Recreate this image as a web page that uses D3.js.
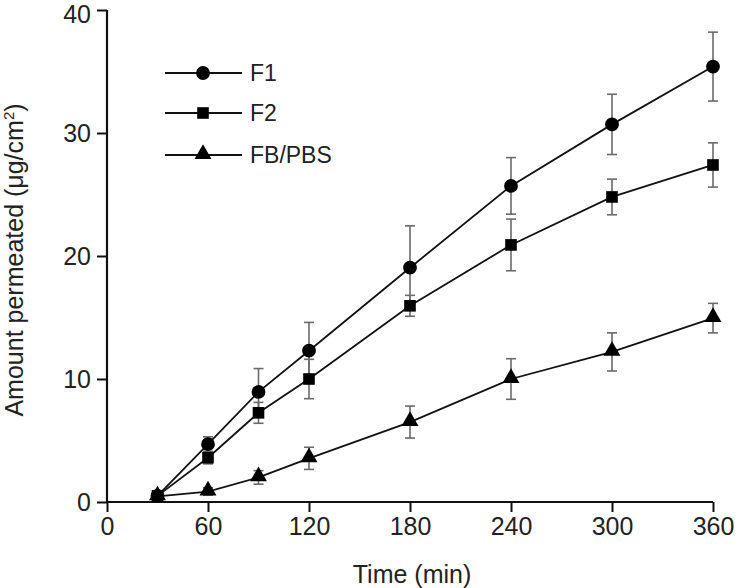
<!DOCTYPE html>
<html><head><meta charset="utf-8">
<script src="https://cdn.jsdelivr.net/npm/d3@7"></script>
<style>body{margin:0;background:#fff}svg{display:block}text{font-family:"Liberation Sans",Arial,sans-serif;fill:#222}</style>
</head><body><svg id="c" width="740" height="588"></svg>
<script>
const times = [30, 60, 90, 120, 180, 240, 300, 360];
const f1 = [0.5, 4.7, 8.95, 12.3, 19.05, 25.7, 30.7, 35.4];
const f1Err = [0.2, 0.6, 1.9, 2.3, 3.4, 2.3, 2.45, 2.8];
const f2 = [0.5, 3.6, 7.25, 10.0, 15.95, 20.9, 24.8, 27.4];
const f2Err = [0.2, 0.5, 0.85, 1.6, 0.85, 2.1, 1.45, 1.8];
const fb = [0.45, 0.85, 2.0, 3.55, 6.5, 10.0, 12.2, 14.95];
const fbErr = [0.1, 0.3, 0.55, 0.9, 1.3, 1.65, 1.55, 1.2];
const xTicks = [0, 60, 120, 180, 240, 300, 360];
const yTicks = [0, 10, 20, 30, 40];
const seriesNames = ["F1", "F2", "FB/PBS"];

const series = [
  {name: seriesNames[0], vals: f1, err: f1Err, sym: d3.symbolCircle, size: 150},
  {name: seriesNames[1], vals: f2, err: f2Err, sym: d3.symbolSquare, size: 135},
  {name: seriesNames[2], vals: fb, err: fbErr, sym: d3.symbolTriangle, size: 125}
];

const svg = d3.select("#c");
const x = d3.scaleLinear().domain([0, 360]).range([107, 713]);
const y = d3.scaleLinear().domain([0, 40]).range([502, 10]);

// axes
const xAxis = svg.append("g").attr("transform", "translate(0,502)")
  .call(d3.axisBottom(x).tickValues(xTicks).tickSize(10).tickPadding(5));
const yAxis = svg.append("g").attr("transform", "translate(107,0)")
  .call(d3.axisLeft(y).tickValues(yTicks).tickSize(10).tickPadding(6));
[xAxis, yAxis].forEach(g => {
  g.select(".domain").attr("stroke", "#111").attr("stroke-width", 2.2);
  g.selectAll(".tick line").attr("stroke", "#111").attr("stroke-width", 2);
  g.selectAll(".tick text").style("font-size", "25px").attr("fill", "#222");
});
yAxis.selectAll(".tick text").attr("dy", d => d === 40 ? "0.48em" : "0.35em");
xAxis.select(".domain").attr("d", "M107,0H713");
yAxis.select(".domain").attr("d", "M0,502V10");

svg.append("text").attr("x", 412).attr("y", 583).attr("text-anchor", "middle")
  .style("font-size", "25px").text("Time (min)");
const yl = svg.append("text").attr("transform", "translate(23,260) rotate(-90)")
  .attr("text-anchor", "middle").style("font-size", "25px");
yl.append("tspan").text("Amount permeated (μg/cm");
yl.append("tspan").attr("dy", -9).style("font-size", "15px").text("2");
yl.append("tspan").attr("dy", 9).text(")");

// error bars
series.forEach(s => {
  const g = svg.append("g").attr("stroke", "#6a6a6a").attr("stroke-width", 1.6);
  times.forEach((t, i) => {
    const cx = x(t), top = y(s.vals[i] + s.err[i]), bot = y(s.vals[i] - s.err[i]);
    g.append("line").attr("x1", cx).attr("x2", cx).attr("y1", top).attr("y2", bot);
    g.append("line").attr("x1", cx - 5).attr("x2", cx + 5).attr("y1", top).attr("y2", top);
    g.append("line").attr("x1", cx - 5).attr("x2", cx + 5).attr("y1", bot).attr("y2", bot);
  });
});

// lines and markers
const line = d3.line().x((d, i) => x(times[i])).y(d => y(d));
series.forEach(s => {
  svg.append("path").attr("d", line(s.vals)).attr("fill", "none")
    .attr("stroke", "#111").attr("stroke-width", 1.8);
  svg.append("g").selectAll("path").data(s.vals).join("path")
    .attr("transform", (d, i) => `translate(${x(times[i])},${y(d) + (s.sym === d3.symbolTriangle ? -1 : 0)})`)
    .attr("d", d3.symbol().type(s.sym).size(s.size)).attr("fill", "#000");
});

// legend
const legY = [73, 113, 155];
series.forEach((s, i) => {
  const g = svg.append("g").attr("transform", `translate(0,${legY[i]})`);
  g.append("line").attr("x1", 165).attr("x2", 242).attr("stroke", "#111").attr("stroke-width", 1.8);
  g.append("path").attr("transform", `translate(203,${s.sym === d3.symbolTriangle ? -1 : 0})`)
    .attr("d", d3.symbol().type(s.sym).size(s.size)).attr("fill", "#000");
  g.append("text").attr("x", 250).attr("y", 8).style("font-size", "23px").text(s.name);
});
</script></body></html>
